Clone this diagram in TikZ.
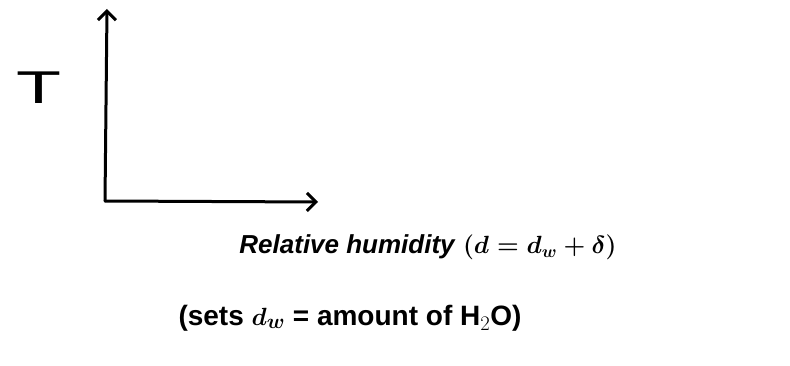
\documentclass[tikz,border=0pt]{standalone}
\usepackage{amsmath}
\usepackage{graphicx}
\usepackage{fontspec}
\setmainfont{Liberation Sans}
\usetikzlibrary{arrows.meta,positioning}

\begin{document}
\begin{tikzpicture}[
  x=1pt,y=-1pt,
  axis/.style={-{Straight Barb[length=9pt,width=18pt,line width=3pt]},line width=3pt,line cap=round,line join=round},
  tlabel/.style={font=\fontsize{46}{50}\selectfont,inner sep=0pt},
  xlabel/.style={font=\bfseries\fontsize{26}{30}\selectfont,inner sep=0pt},
  note/.style={font=\bfseries\fontsize{28}{32}\selectfont,inner sep=0pt}
]
\useasboundingbox (0,0) rectangle (790,366);
\fill[white] (0,0) rectangle (790,366);

% axes
\coordinate (origin) at (105,201);
\coordinate (ytip) at (107,9);
\coordinate (xtip) at (318,202);
\draw[axis] (origin) -- (ytip);
\draw[axis] (origin) -- (xtip);

% labels
\node[tlabel] (temp) at (39,88) {\scalebox{1.6}[1]{T}};
\node[xlabel] (humid) at (428,247) {\textit{Relative humidity} $\boldsymbol{(d = d_w + \delta)}$};
\node[note] (water) at (350,318) {(sets $\boldsymbol{d_w}$ = amount of H$_2$O)};
\end{tikzpicture}
\end{document}
